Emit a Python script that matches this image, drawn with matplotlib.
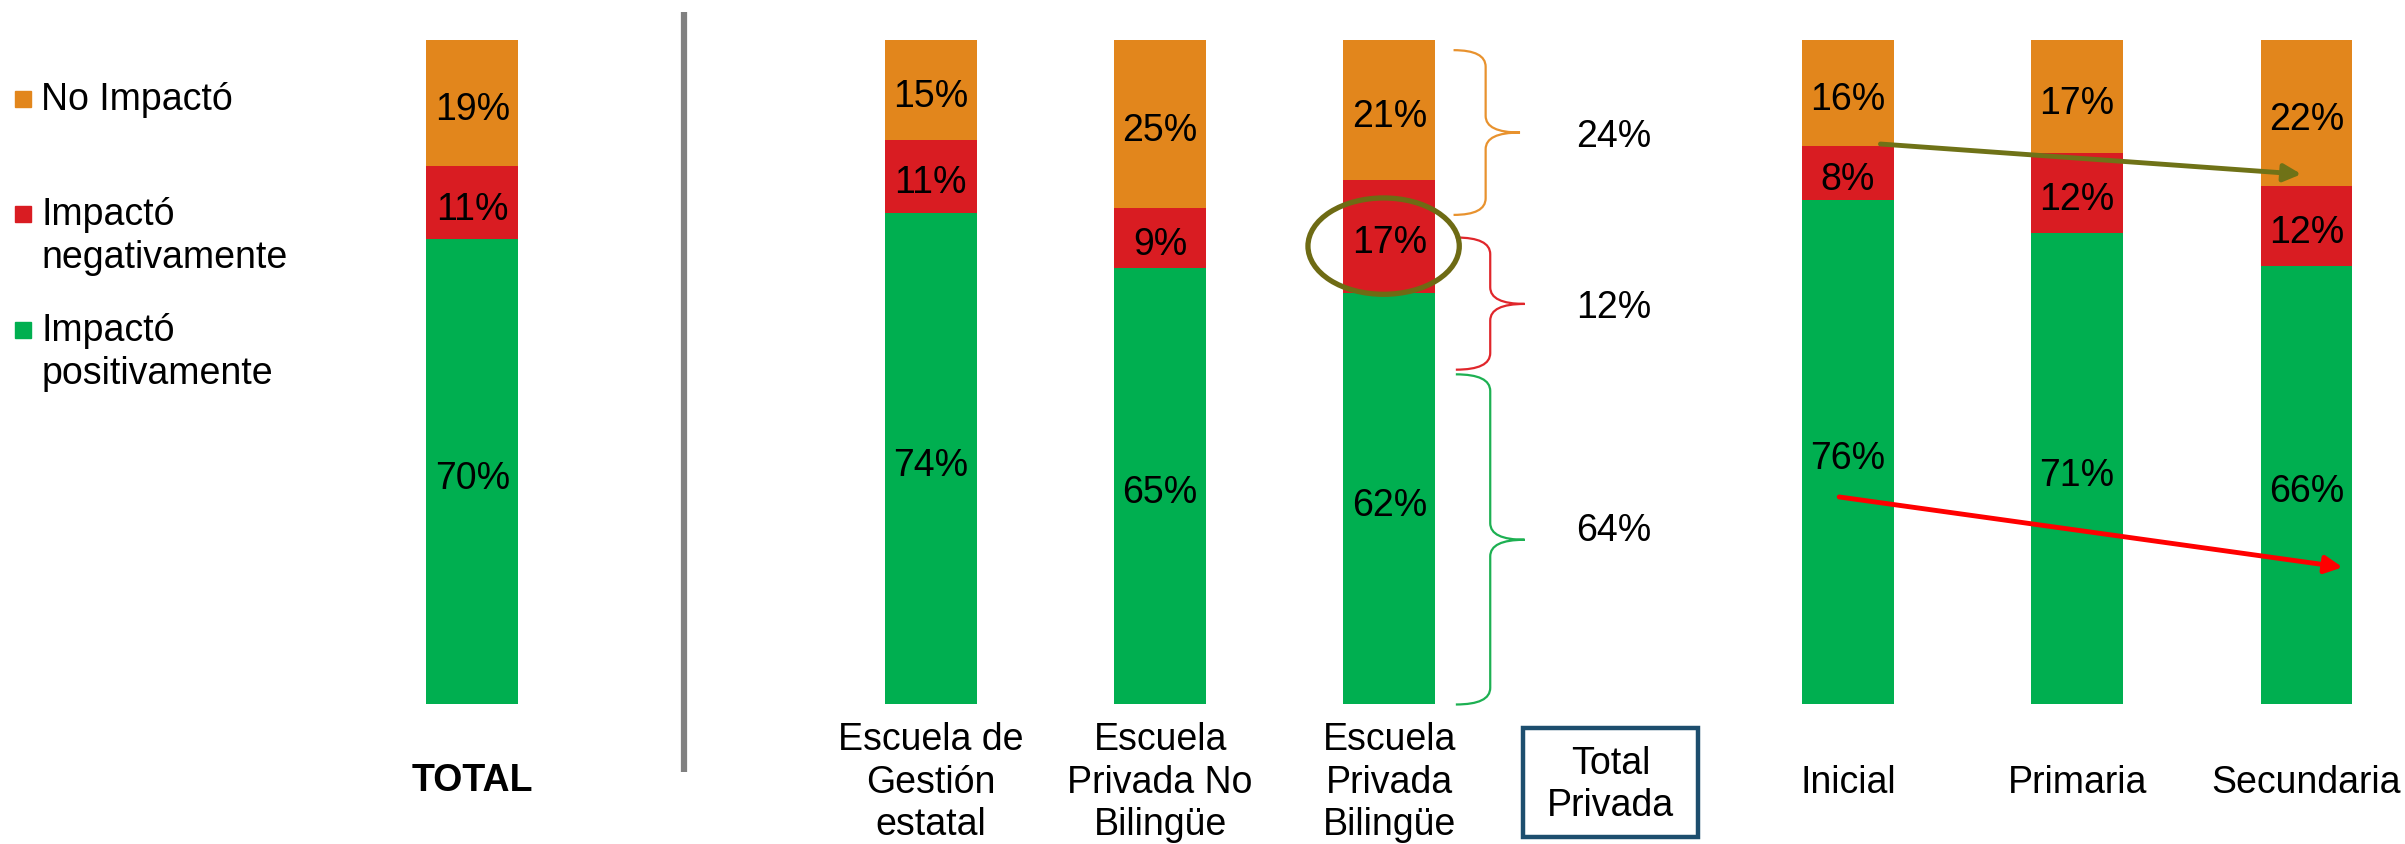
import matplotlib
matplotlib.use("Agg")
import matplotlib.pyplot as plt
from matplotlib.patches import Ellipse, Rectangle, PathPatch
from matplotlib.path import Path

plt.rcParams['font.family'] = ['Liberation Sans', 'DejaVu Sans']

# data
categories = ['TOTAL', 'Escuela de\nGestión\nestatal', 'Escuela\nPrivada No\nBilingüe',
              'Escuela\nPrivada\nBilingüe', 'Inicial', 'Primaria', 'Secundaria']
positions = [0, 2, 3, 4, 6, 7, 8]
positivo = [70, 74, 65, 62, 76, 71, 66]
negativo = [11, 11, 9, 17, 8, 12, 12]
no_impacto = [19, 15, 25, 21, 16, 17, 22]
series_labels = ['No Impactó', 'Impactó\nnegativamente', 'Impactó\npositivamente']
total_privada = [24, 12, 64]   # no impactó, negativo, positivo

c_orange = '#E2861C'
c_red = '#D91C22'
c_green = '#00AF50'

fig = plt.figure(figsize=(24.05, 8.45), dpi=100)
ax = fig.add_axes([0, 0, 1, 1])
ax.set_xlim(-2.06, 8.43)
ax.set_ylim(-21.0, 106.2)
ax.axis('off')

fs = 27
w = 0.4
dy = -0.9  # labels sit a bit below segment centre
for i, x in enumerate(positions):
    tot = positivo[i] + negativo[i] + no_impacto[i]
    g = positivo[i] * 100.0 / tot
    r = negativo[i] * 100.0 / tot
    o = no_impacto[i] * 100.0 / tot
    ax.bar(x, g, w, color=c_green)
    ax.bar(x, r, w, bottom=g, color=c_red)
    ax.bar(x, o, w, bottom=g + r, color=c_orange)
    ax.text(x, g / 2 + dy, f'{positivo[i]}%', ha='center', va='center', fontsize=fs)
    ax.text(x, g + r / 2 + dy, f'{negativo[i]}%', ha='center', va='center', fontsize=fs)
    ax.text(x, g + r + o / 2 + dy, f'{no_impacto[i]}%', ha='center', va='center', fontsize=fs)
    if i == 0:
        ax.text(x, -11.4, categories[i], ha='center', va='center', fontsize=fs, fontweight='bold')
    else:
        ax.text(x, -11.6, categories[i], ha='center', va='center', fontsize=fs, linespacing=1.22)

# separator
ax.plot([0.925, 0.925], [-10.1, 104.3], color='#808080', lw=4.5, solid_capstyle='butt')

# legend
leg_y = [91.2, 73.8, 56.4]
leg_cols = [c_orange, c_red, c_green]
for lab, yy, col in zip(series_labels, leg_y, leg_cols):
    ax.plot(-1.96, yy, marker='s', ms=12, color=col, mec=col)
    lines = lab.split('\n')
    for k, ln in enumerate(lines):
        ax.text(-1.88, yy - k * 6.5, ln, ha='left', va='center', fontsize=fs)


def brace(x0, x1, x2, ytop, ybot, ytip, col, r=2.5):
    verts = [(x0, ytop), (x1, ytop), (x1, ytop - r),
             (x1, ytip + r), (x1, ytip), (x2, ytip),
             (x1, ytip), (x1, ytip - r),
             (x1, ybot + r), (x1, ybot), (x0, ybot)]
    codes = [Path.MOVETO, Path.CURVE3, Path.CURVE3,
             Path.LINETO, Path.CURVE3, Path.CURVE3,
             Path.CURVE3, Path.CURVE3,
             Path.LINETO, Path.CURVE3, Path.CURVE3]
    ax.add_patch(PathPatch(Path(verts, codes), fill=False, edgecolor=col, lw=1.6))


brace(4.28, 4.42, 4.57, 98.5, 73.7, 86.1, '#E8922E')
brace(4.29, 4.44, 4.59, 70.3, 50.4, 60.3, '#E0262B')
brace(4.29, 4.44, 4.59, 49.7, 0.0, 24.8, '#1DB052')

ax.text(4.98, 85.6, f'{total_privada[0]}%', ha='center', va='center', fontsize=fs)
ax.text(4.98, 59.8, f'{total_privada[1]}%', ha='center', va='center', fontsize=fs)
ax.text(4.98, 26.2, f'{total_privada[2]}%', ha='center', va='center', fontsize=fs)

ax.add_patch(Rectangle((4.585, -20.0), 0.76, 16.4, fill=False, edgecolor='#1D4E6E', lw=3.2))
ax.text(4.965, -12.0, 'Total\nPrivada', ha='center', va='center', fontsize=fs, linespacing=1.22)

# highlight
ax.add_patch(Ellipse((3.975, 69.0), 0.66, 14.5, fill=False, edgecolor='#6E6B14', lw=3.8))

# trend arrows
ax.annotate('', xy=(7.99, 79.8), xytext=(6.13, 84.4),
            arrowprops=dict(arrowstyle='-|>', color='#6F7217', lw=3.5, mutation_scale=26))
ax.annotate('', xy=(8.17, 20.6), xytext=(5.95, 31.3),
            arrowprops=dict(arrowstyle='-|>', color='#FF0000', lw=3.5, mutation_scale=26))

fig.savefig('out.png', dpi=100)
